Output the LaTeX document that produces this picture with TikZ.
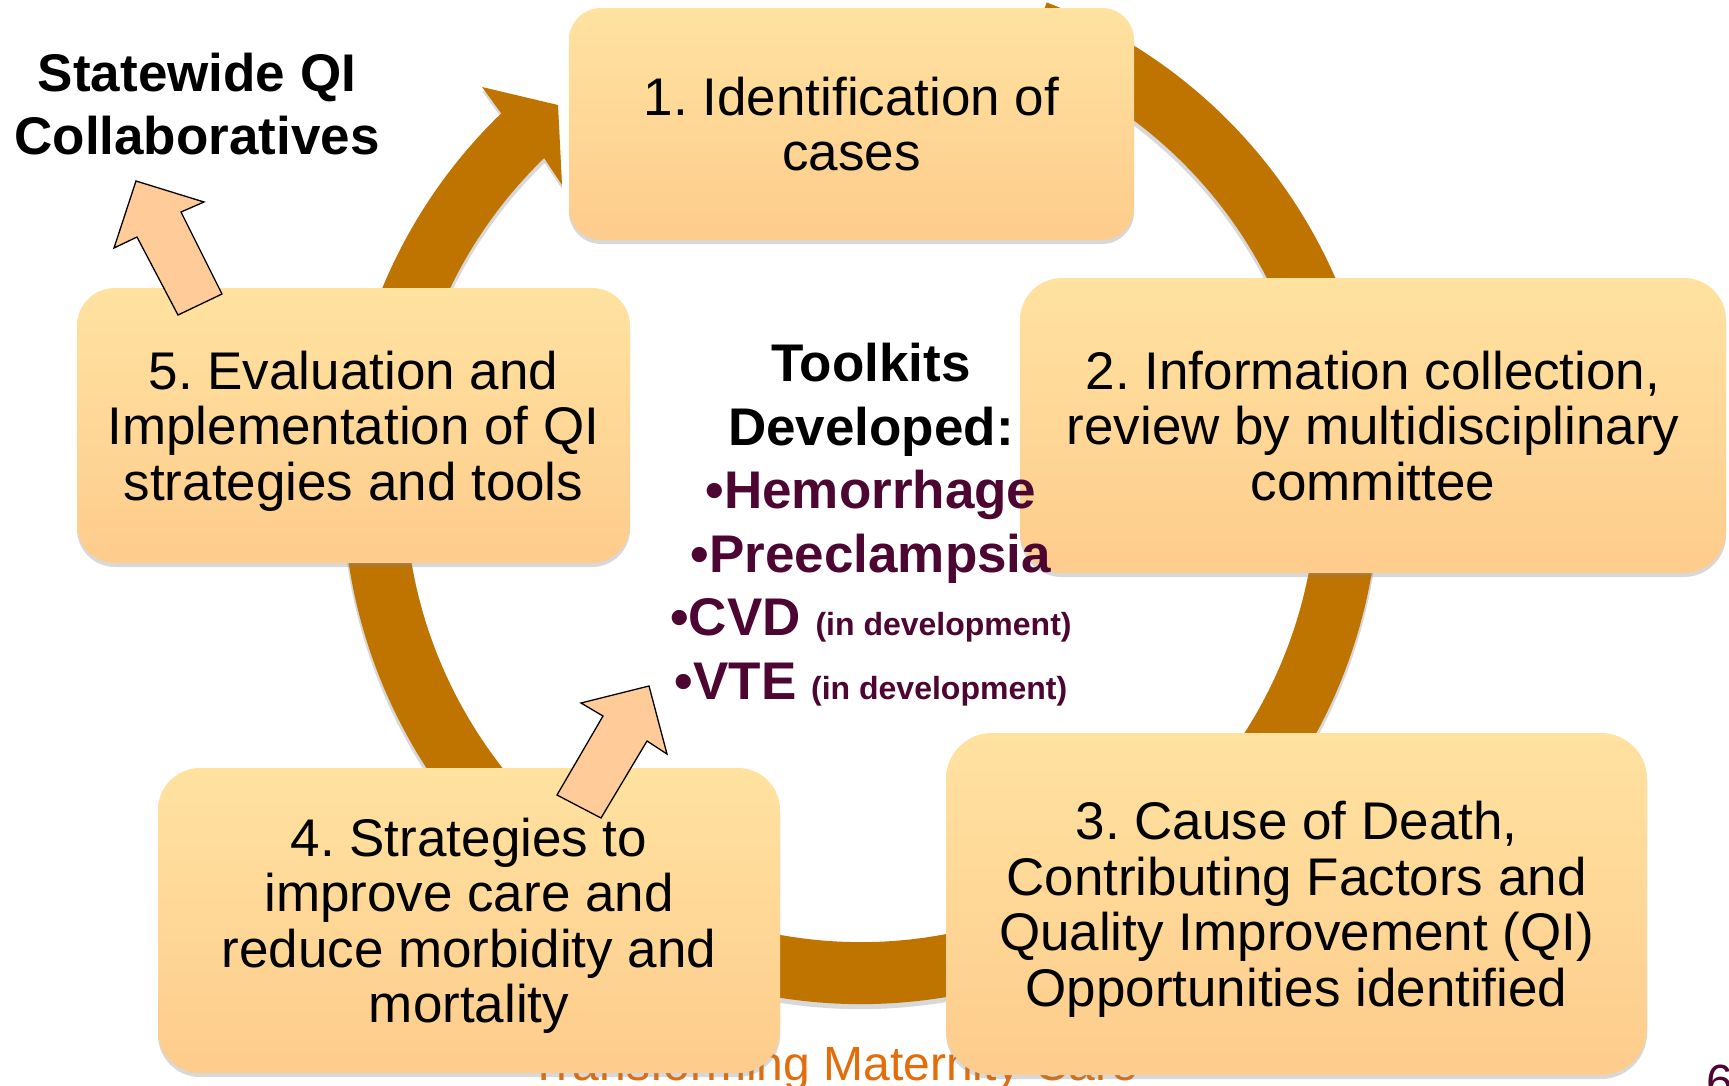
\documentclass[tikz,border=0pt]{standalone}
\usepackage{fontspec}
\setmainfont{Liberation Sans}
\usetikzlibrary{shadows}
\frenchspacing
\definecolor{ringbrown}{RGB}{192,116,0}
\definecolor{boxtop}{RGB}{255,226,160}
\definecolor{boxbottom}{RGB}{254,204,140}
\definecolor{peach}{RGB}{255,204,153}
\definecolor{plum}{RGB}{77,5,50}
\definecolor{footorange}{RGB}{228,108,10}
\begin{document}
\begin{tikzpicture}[x=1pt, y=-1pt,
    stage/.style={rounded corners=42pt, top color=boxtop, bottom color=boxbottom, draw=none,
      drop shadow={shadow xshift=0pt, shadow yshift=-4pt, opacity=0.3},
      align=center, inner sep=0pt, text depth=0pt, font=\fontsize{53}{55.5}\selectfont},
    ring/.style={line width=62pt, draw=ringbrown},
    ringshade/.style={line width=64pt, draw=black!60, opacity=0.25},
    fatarrow/.style={fill=peach, draw=black, line width=1.3pt, line join=miter},
    heading/.style={font=\bfseries\fontsize{53}{63.5}\selectfont, align=center, inner sep=0pt}]
  \useasboundingbox[fill=white] (0,0) rectangle (1729,1085);

  % footer and page number, mostly hidden behind the boxes
  \node[anchor=base west, text=footorange, font=\fontsize{48}{58}\selectfont, inner sep=0pt] (foot) at (529,1080) {Transforming Maternity Care};
  \node[anchor=base west, text=plum, font=\fontsize{48}{58}\selectfont, inner sep=0pt] (page) at (1706,1098) {6};

  % the cycle ring
  \coordinate (hub) at (861,486);
  \draw[ringshade] (861,490) ++(-69:487) arc[start angle=-69, end angle=226, radius=487];
  \fill[black!60, opacity=0.25] (501,117) -- (482,91) -- (558,109) -- (562,189) -- (544,162) -- cycle;
  \draw[ring] (hub) ++(-69:487) arc[start angle=-69, end angle=226.3, radius=487];
  \fill[ringbrown] (501,113) -- (482,87) -- (558,105) -- (562,185) -- (544,158) -- cycle;

  % the five stages
  \node[stage, minimum width=565pt, minimum height=232pt, rounded corners=32pt] (1) at (851.5,124) {1. Identification of\\cases};
  \node[stage, minimum width=706pt, minimum height=295pt] (2) at (1373,425.5) {2. Information collection,\\review by multidisciplinary\\committee};
  \node[stage, minimum width=701pt, minimum height=342pt, rounded corners=46pt] (3) at (1296.5,904) {3. Cause of Death,\\Contributing Factors and\\Quality Improvement (QI)\\Opportunities identified};
  \node[stage, minimum width=622pt, minimum height=305pt] (4) at (469,920.5) {4. Strategies to\\improve care and\\reduce morbidity and\\mortality};
  \node[stage, minimum width=553pt, minimum height=275pt, rounded corners=38pt] (5) at (353.5,425.5) {5. Evaluation and\\Implementation of QI\\strategies and tools};

  % outcomes
  \draw[fatarrow] (136,181) -- (204,202) -- (181,212) -- (222,294) -- (178,315) -- (137,237) -- (114,248) -- cycle;
  \draw[fatarrow] (649,686) -- (667,754) -- (647,741) -- (601,818) -- (557,795) -- (603,716) -- (581,703) -- cycle;

  \node[heading] (state) at (197,104) {Statewide QI\\Collaboratives};
  \node[heading, text=plum] (kits) at (871,524.5) {\textcolor{black}{Toolkits}\\\textcolor{black}{Developed:}\\%
    •Hemorrhage\\•Preeclampsia\\%
    •CVD {\fontsize{32}{63.5}\selectfont(in development)}\\%
    •VTE {\fontsize{32}{63.5}\selectfont(in development)}};
\end{tikzpicture}
\end{document}
